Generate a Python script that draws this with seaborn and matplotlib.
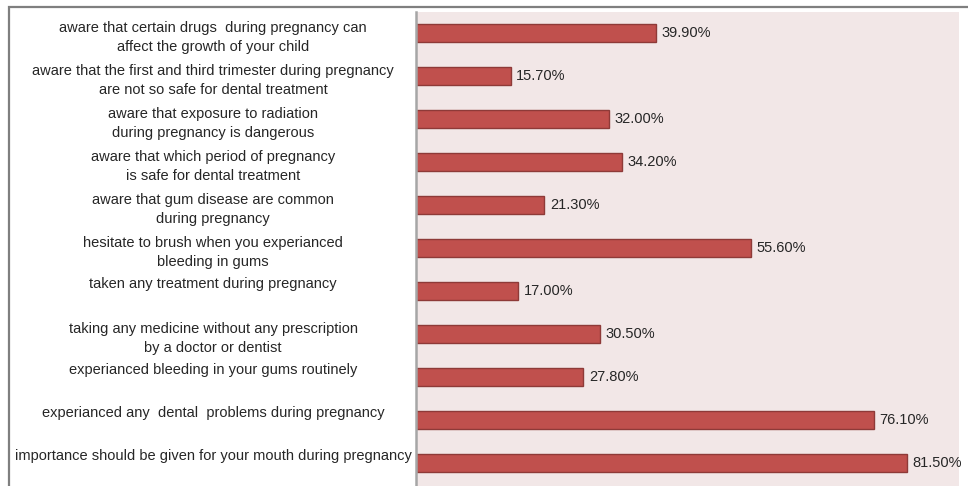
import matplotlib
matplotlib.use("Agg")
import matplotlib.pyplot as plt
import seaborn as sns
import pandas as pd
from matplotlib.patches import Rectangle

questions = [
    "aware that certain drugs  during pregnancy can\naffect the growth of your child",
    "aware that the first and third trimester during pregnancy\nare not so safe for dental treatment",
    "aware that exposure to radiation\nduring pregnancy is dangerous",
    "aware that which period of pregnancy\nis safe for dental treatment",
    "aware that gum disease are common\nduring pregnancy",
    "hesitate to brush when you experianced\nbleeding in gums",
    "taken any treatment during pregnancy",
    "taking any medicine without any prescription\nby a doctor or dentist",
    "experianced bleeding in your gums routinely",
    "experianced any  dental  problems during pregnancy",
    "importance should be given for your mouth during pregnancy",
]
percentages = [39.9, 15.7, 32.0, 34.2, 21.3, 55.6, 17.0, 30.5, 27.8, 76.1, 81.5]

df = pd.DataFrame({"question": questions, "percent": percentages})

sns.set_theme(style="white")
plt.rcParams["font.family"] = ["Liberation Sans", "DejaVu Sans"]

W, H = 968, 486
fig = plt.figure(figsize=(W / 100, H / 100), dpi=100)
fig.patch.set_facecolor("white")

# outer frame of the chart (open to the right and bottom)
fig.add_artist(Rectangle((9 / W, -0.1), 1.2, 1 - 6.5 / H + 0.1,
                         transform=fig.transFigure, fill=False,
                         edgecolor="#7f7f7f", linewidth=1.6))

ax = fig.add_axes([416 / W, 0, (959 - 416) / W, 1 - 12 / H])
ax.set_facecolor("#f2e7e7")

sns.barplot(data=df, x="percent", y="question", orient="h", ax=ax,
            color="#c0504d", saturation=1, width=0.42,
            edgecolor="#8e3a38", linewidth=1.0)

ax.set_xlim(0, 90.2)
ax.set_ylim(10.53, -0.49)
ax.set_xlabel("")
ax.set_ylabel("")
ax.set_xticks([])

for side in ("top", "right", "bottom"):
    ax.spines[side].set_visible(False)
ax.spines["left"].set_color("#a6a6a6")
ax.spines["left"].set_linewidth(1.8)

ax.tick_params(axis="y", length=0, pad=146, labelsize=10.5, labelcolor="#262626")
for lbl in ax.get_yticklabels():
    lbl.set_horizontalalignment("center")
    lbl.set_multialignment("center")
    lbl.set_linespacing(1.5)
    # one-line questions sit slightly above their bar
    if "\n" not in lbl.get_text():
        lbl.set_verticalalignment("bottom")

ax.bar_label(ax.containers[0], fmt="%.2f%%", padding=4,
             fontsize=10.5, color="#262626")

fig.savefig("out.png", dpi=100)
